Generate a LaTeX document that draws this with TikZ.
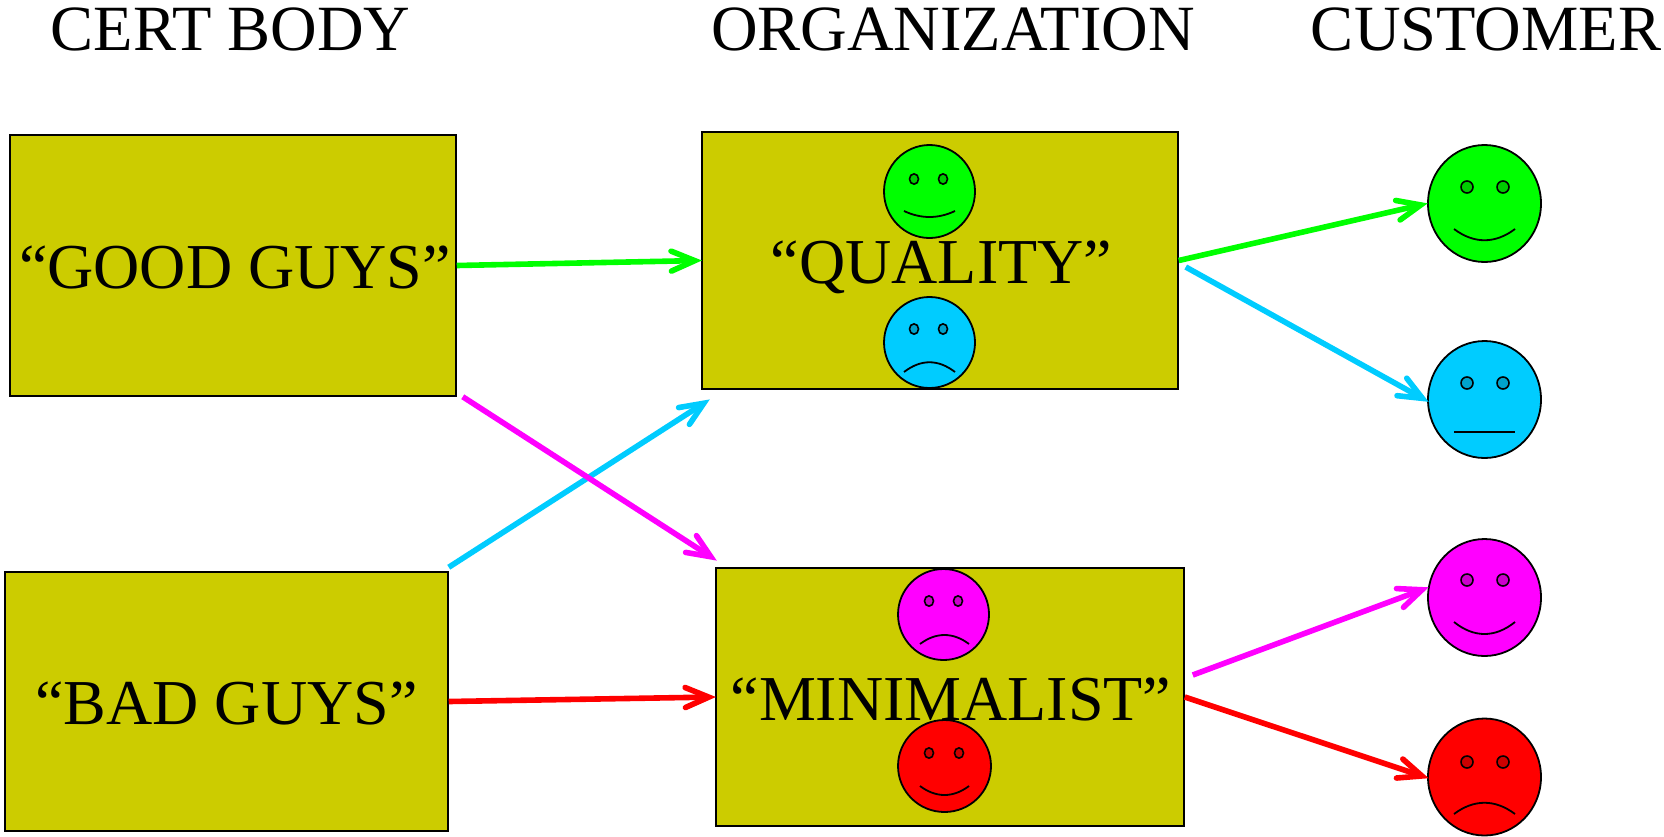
\documentclass[tikz,border=0pt]{standalone}
\usepackage{fontspec}
\setmainfont{Liberation Serif}
\usetikzlibrary{shapes.geometric,calc}
\definecolor{boxolive}{RGB}{204,204,0}
\definecolor{cgreen}{RGB}{0,255,0}
\definecolor{cblue}{RGB}{0,204,255}
\definecolor{cmag}{RGB}{255,0,255}
\definecolor{cred}{RGB}{255,0,0}
\pgfarrowsdeclare{veebarb}{veebarb}{\pgfarrowsleftextend{-23.5pt}\pgfarrowsrightextend{6.5pt}}{
  \pgfsetroundcap\pgfsetmiterjoin\pgfsetmiterlimit{10}
  \pgfpathmoveto{\pgfqpoint{-23.5pt}{10pt}}
  \pgfpathlineto{\pgfqpoint{0pt}{0pt}}
  \pgfpathlineto{\pgfqpoint{-23.5pt}{-10pt}}
  \pgfusepathqstroke}
\tikzset{
  x=1pt,y=-1pt,
  headtext/.style={inner sep=0pt,anchor=base,font=\fontsize{64.5}{64.5}\selectfont},
  bigbox/.style={draw=black,line width=1.5pt,fill=boxolive,inner sep=0pt,text height=46pt,text depth=0pt,font=\fontsize{64}{64}\selectfont},
  face/.style={draw=black,line width=1.8pt,shape=ellipse,inner sep=0pt},
  eye/.style={draw=black,line width=1.6pt},
  mouth/.style={draw=black,line width=1.8pt},
  link/.style={line width=5.6pt,-veebarb},
}
\begin{document}
\begin{tikzpicture}
\useasboundingbox (0,0) rectangle (1664,836);
\node[headtext] (h1) at (230.5,50) {CERT BODY};
\node[headtext] (h2) at (953,50) {ORGANIZATION};
\node[headtext] (h3) at (1486,50) {CUSTOMER};

\node[bigbox,minimum width=446pt,minimum height=261pt] (good) at (233,265.5) {\hspace*{4pt}“GOOD GUYS”};
\node[bigbox,minimum width=443pt,minimum height=259pt] (bad) at (226.5,701.5) {“BAD GUYS”};
\node[bigbox,minimum width=476pt,minimum height=257pt] (quality) at (940,260.5) {\hspace*{3pt}“QUALITY”};
\node[bigbox,minimum width=468pt,minimum height=258pt] (minim) at (950,697) {\hspace*{2pt}“MINIMALIST”};

% faces inside the organization boxes
\node[face,fill=cgreen,minimum width=91pt,minimum height=93pt] (qg) at (929.5,191.5) {};
\node[face,fill=cblue,minimum width=91pt,minimum height=91pt] (qb) at (929.5,342.5) {};
\node[face,fill=cmag,minimum width=91pt,minimum height=91pt] (mm) at (943.5,614.5) {};
\node[face,fill=cred,minimum width=93pt,minimum height=92pt] (mr) at (944.5,766) {};
% customer faces
\node[face,fill=cgreen,minimum width=113pt,minimum height=117pt] (cg) at (1484.5,203.5) {};
\node[face,fill=cblue,minimum width=113pt,minimum height=117pt] (cb) at (1484.5,399.5) {};
\node[face,fill=cmag,minimum width=113pt,minimum height=117pt] (cm) at (1484.5,597.5) {};
\node[face,fill=cred,minimum width=113pt,minimum height=117pt] (cr) at (1484.5,777) {};

% eyes
\foreach \ex/\ey/\ec in {914/179/cgreen,943/179/cgreen,914/329/cblue,943/329/cblue,929/601/cmag,958/601/cmag,929/753/cred,959/753/cred}
  \draw[eye,fill=\ec!80!black] (\ex,\ey) ellipse [x radius=4.5,y radius=5.2];
\foreach \ex/\ey/\ec in {1467/187/cgreen,1503/187/cgreen,1467/383/cblue,1503/383/cblue,1467/580/cmag,1503/580/cmag,1467/762/cred,1503/762/cred}
  \draw[eye,fill=\ec!80!black] (\ex,\ey) ellipse [x radius=6,y radius=6];

% mouths
\draw[mouth] (904,211) .. controls (921,219) and (938,219) .. (955,211);
\draw[mouth] (904,372) .. controls (921,359) and (938,359) .. (955,372);
\draw[mouth] (920,644) .. controls (936,632) and (953,632) .. (969,644);
\draw[mouth] (920,786) .. controls (936,798) and (953,798) .. (969,786);
\draw[mouth] (1454,229) .. controls (1474,244) and (1495,244) .. (1515,229);
\draw[mouth] (1454,432) -- (1515,432);
\draw[mouth] (1454,622) .. controls (1474,638) and (1495,638) .. (1515,622);
\draw[mouth] (1454,814) .. controls (1474,799) and (1495,799) .. (1515,814);

% connector ends
\coordinate (a1) at ($(quality.east)+(7,6.5)$);
\coordinate (a2) at ($(bad.north east)+(0,-4)$);
\coordinate (a3) at ($(quality.south west)+(8,10)$);
\coordinate (a4) at ($(good.south east)+(6,0)$);
\coordinate (a5) at ($(minim.north west)+(1,-7)$);
\coordinate (a6) at ($(minim.east)+(8,-22)$);
\coordinate (a7) at ($(cm.west)+(1,-10)$);
\coordinate (a8) at ($(cr.west)+(1,1)$);
\coordinate (a9) at ($(cb.west)+(1,2)$);

\draw[link,cgreen] (good.east) -- (quality.west);
\draw[link,cgreen] (quality.east) -- (cg.west);
\draw[link,cblue] (a1) -- (a9);
\draw[link,cblue] (a2) -- (a3);
\draw[link,cmag] (a4) -- (a5);
\draw[link,cred] (bad.east) -- (minim.west);
\draw[link,cmag] (a6) -- (a7);
\draw[link,cred] (minim.east) -- (a8);
\end{tikzpicture}
\end{document}
